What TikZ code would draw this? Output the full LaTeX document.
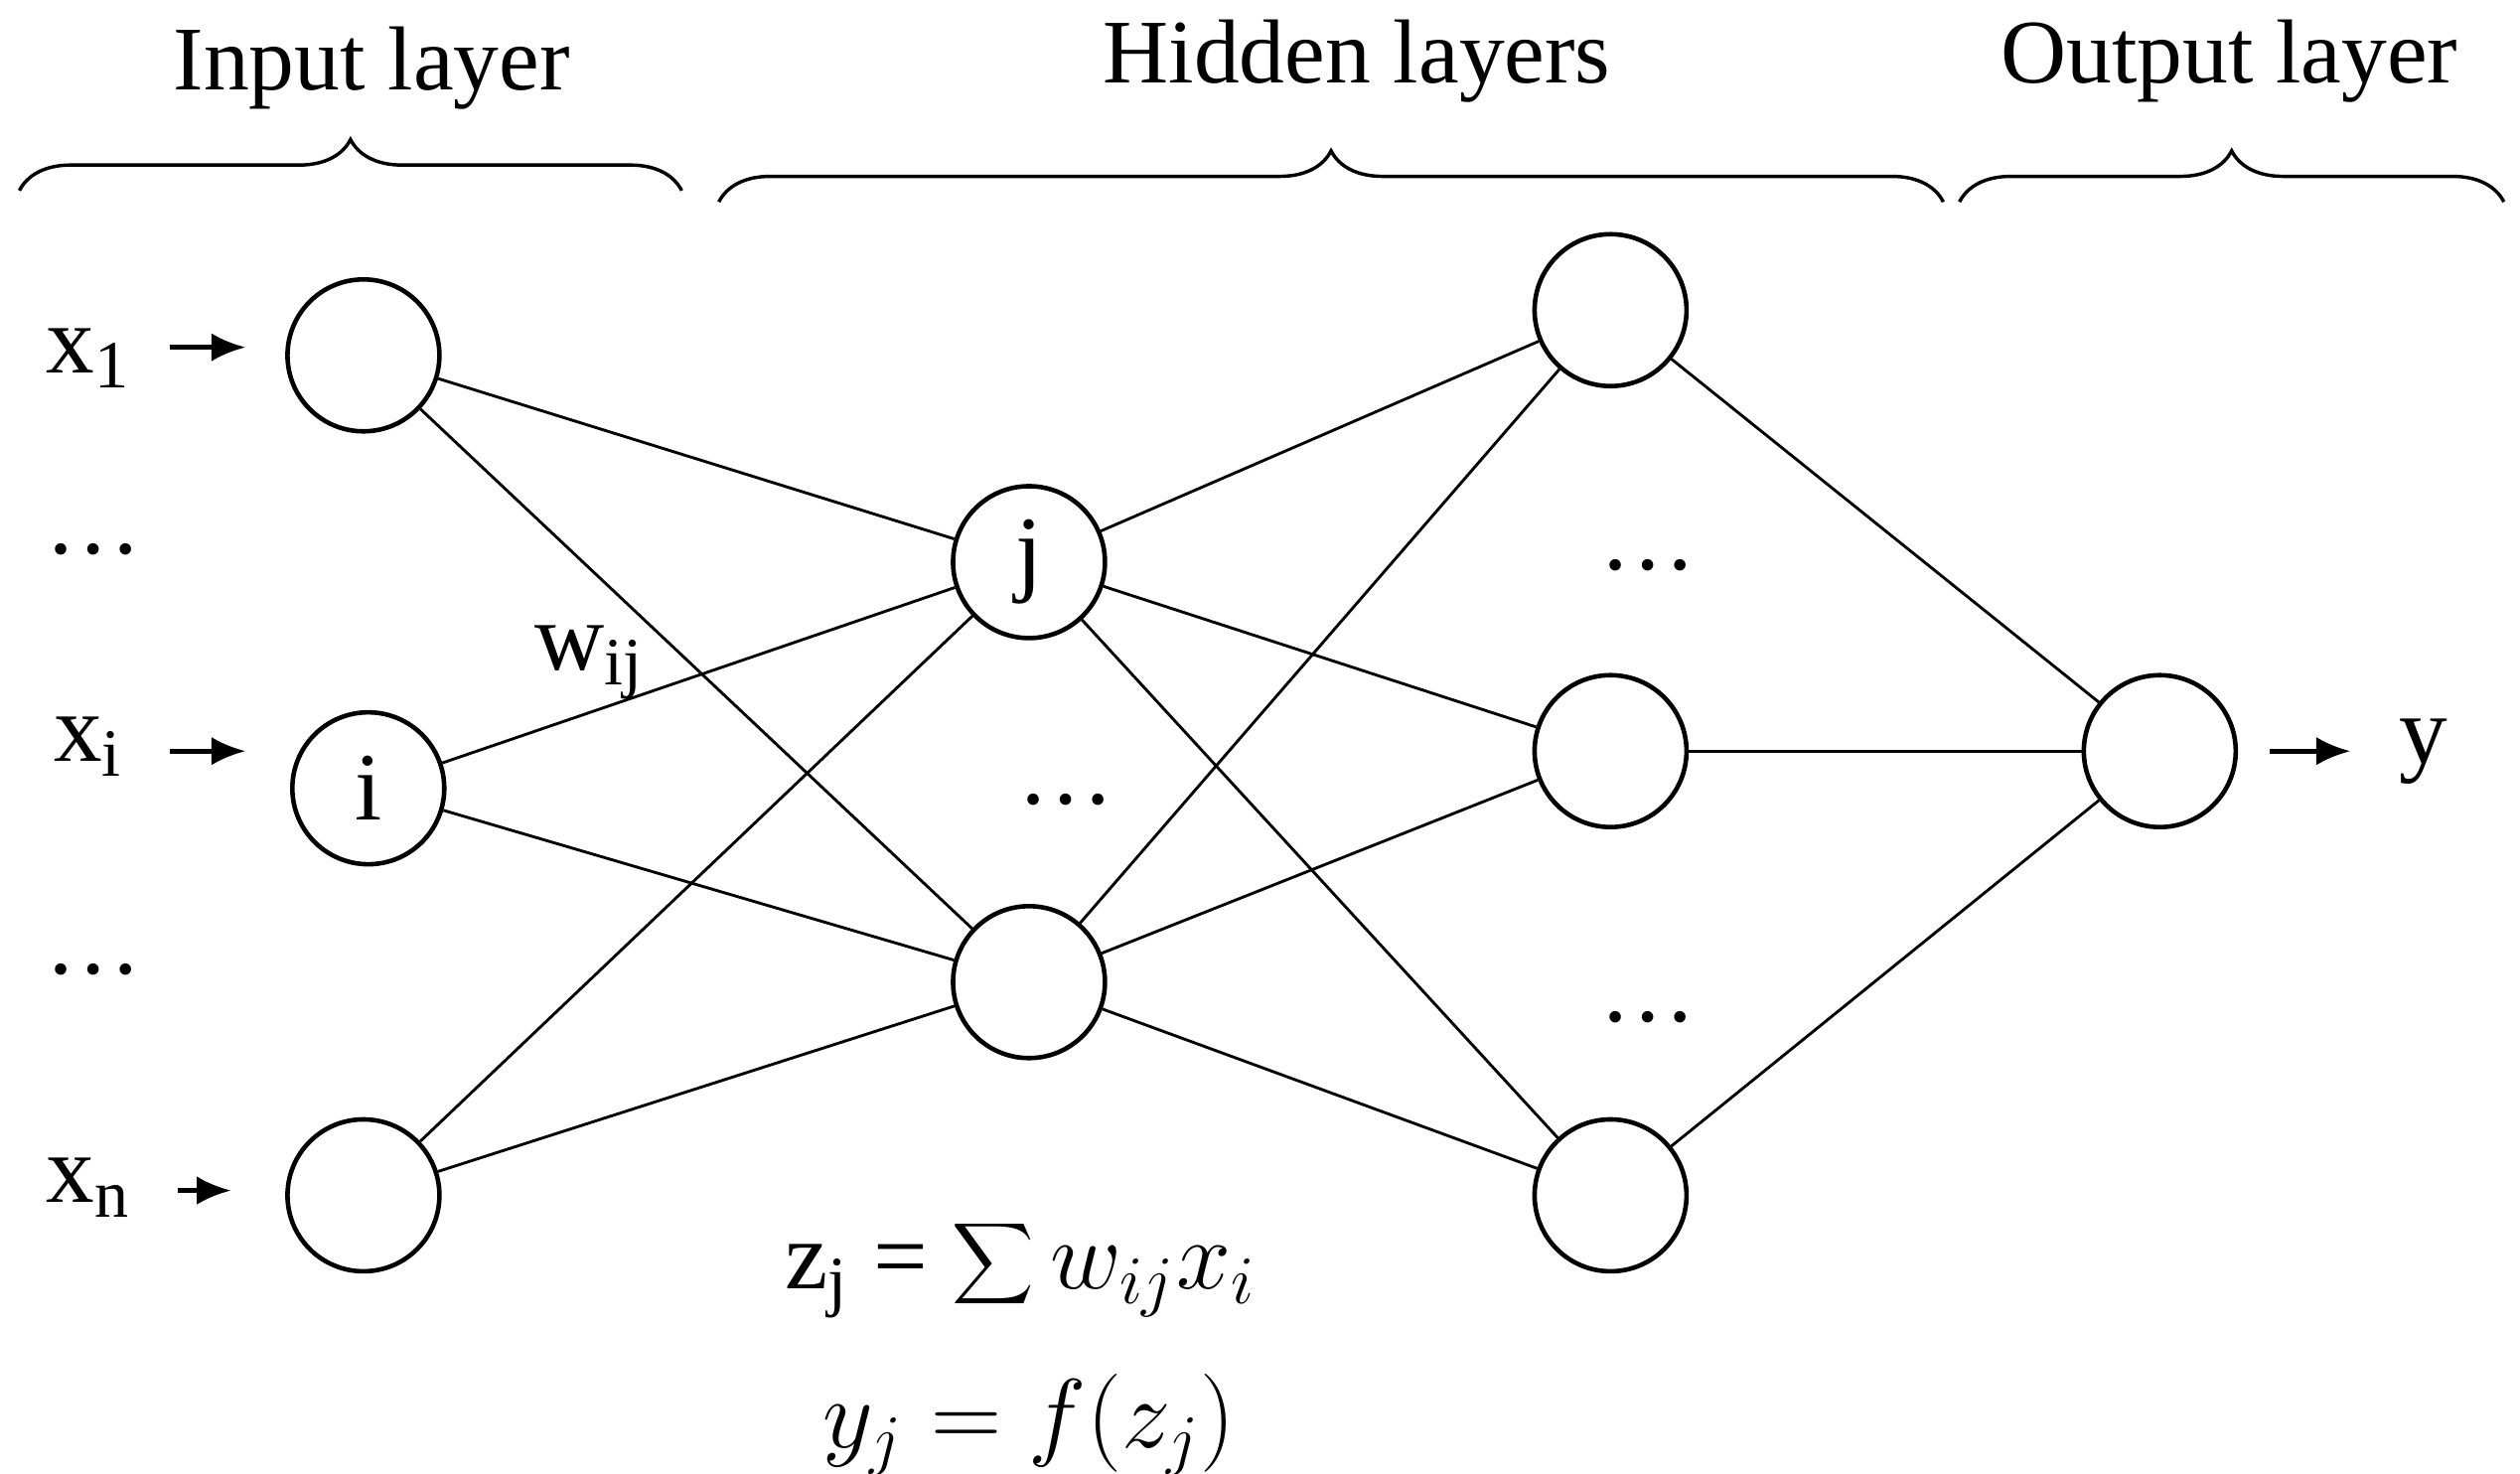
\documentclass[tikz,border=0pt]{standalone}
\usepackage{fontspec}
\setmainfont{Liberation Serif}
\usetikzlibrary{decorations.pathreplacing,arrows.meta}
\begin{document}
\begin{tikzpicture}[x=0.01cm,y=-0.01cm,
  neuron/.style={circle,draw,line width=0.8pt,minimum size=0.94cm,inner sep=0pt,font=\fontsize{17}{20}\selectfont},
  edge/.style={line width=0.5pt},
  lbl/.style={font=\fontsize{17}{20}\selectfont},
  ttl/.style={font=\fontsize{16}{19}\selectfont},
  arr/.style={-{Latex[length=6pt,width=5pt]},line width=0.8pt},
  br/.style={decorate,decoration={brace,amplitude=9pt},line width=0.6pt}]
\useasboundingbox (0,0) rectangle (1560,912);
\node[neuron] (i1) at (225,220) {};
\node[neuron] (ii) at (228,488) {i};
\node[neuron] (in) at (225,740) {};
\node[neuron] (j) at (637,348) {j};
\node[neuron] (hb) at (637,608) {};
\node[neuron] (h1) at (997,192) {};
\node[neuron] (h2) at (997,465) {};
\node[neuron] (h3) at (997,740) {};
\node[neuron] (o) at (1337,465) {};
\foreach \a in {i1,ii,in}{\foreach \b in {j,hb}{\draw[edge] (\a) -- (\b);}}
\foreach \a in {j,hb}{\foreach \b in {h1,h2,h3}{\draw[edge] (\a) -- (\b);}}
\foreach \a in {h1,h2,h3}{\draw[edge] (\a) -- (o);}
\node[lbl] (x1) at (55,222) {x\textsubscript{1}};
\node[lbl] (xi) at (55,462) {x\textsubscript{i}};
\node[lbl] (xn) at (55,735) {x\textsubscript{n}};
\coordinate (a1) at (152,215); \coordinate (ai) at (152,465); \coordinate (an) at (143,737);
\draw[arr] (105,215) -- (a1);
\draw[arr] (105,465) -- (ai);
\draw[arr] (110,737) -- (an);
\node[lbl] (d1) at (58,340) {\dots};
\node[lbl] (d2) at (58,600) {\dots};
\node[lbl] (d3) at (660,495) {\dots};
\node[lbl] (d4) at (1020,350) {\dots};
\node[lbl] (d5) at (1020,630) {\dots};
\coordinate (ya) at (1455,465);
\draw[arr] (1405,465) -- (ya);
\node[lbl] (y) at (1500,465) {y};
\node[lbl,rotate=0] (w) at (365,410) {w\textsubscript{ij}};
\node[lbl] (z) at (632,785) {z\textsubscript{j} = $\displaystyle\sum w_{ij}x_i$};
\node[lbl] (yj) at (637,882) {$y_j = f(z_j)$};
\draw[br] (12,118) -- (422,118);
\draw[br] (445,125) -- (1203,125);
\draw[br] (1213,125) -- (1550,125);
\node[ttl] (t1) at (230,42) {Input layer};
\node[ttl] (t2) at (840,38) {Hidden layers};
\node[ttl] (t3) at (1380,38) {Output layer};
\end{tikzpicture}
\end{document}
